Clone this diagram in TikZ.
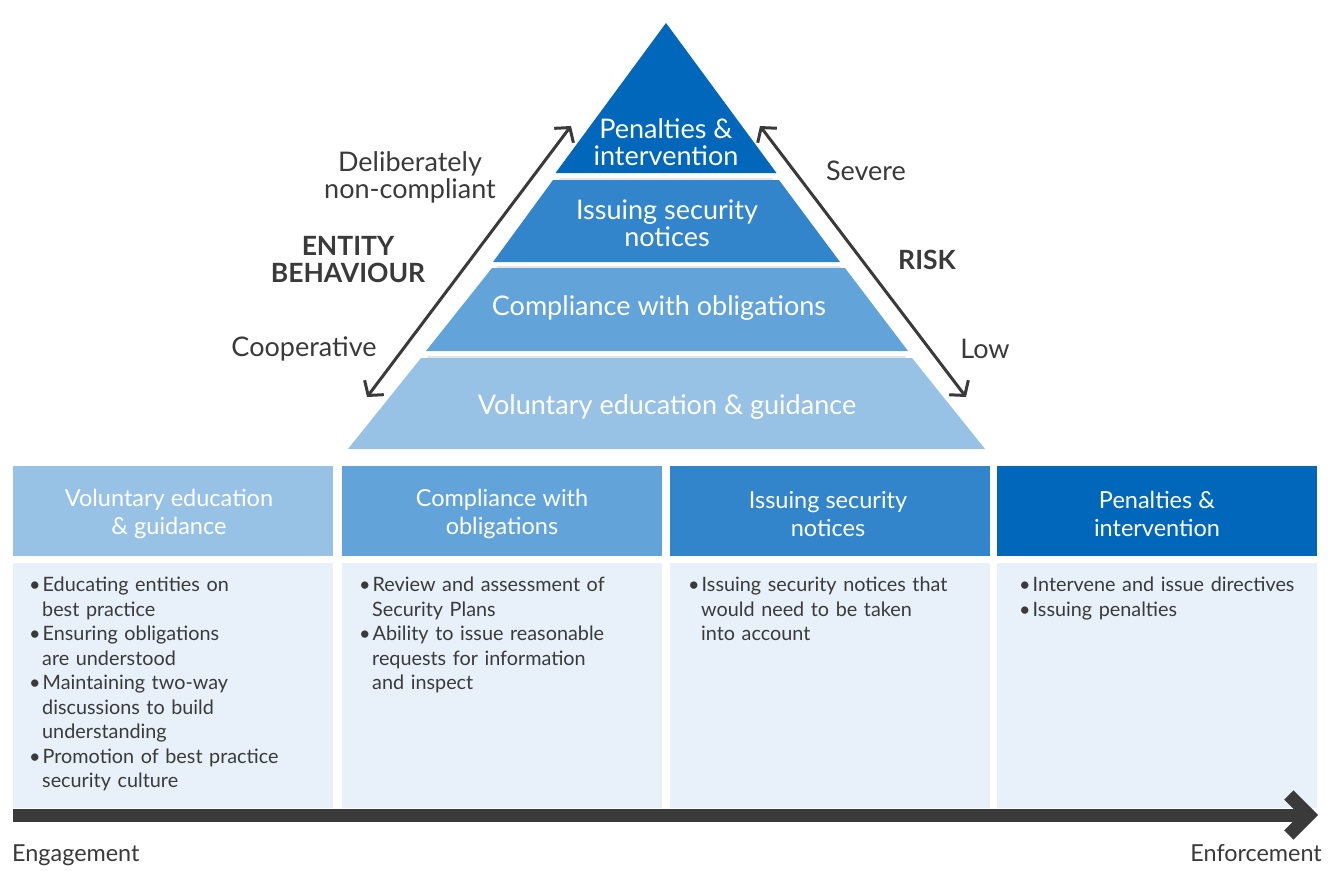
\documentclass[tikz,border=0pt]{standalone}
\usepackage{fontspec}
\setmainfont{Lato}
\usetikzlibrary{arrows.meta}
\definecolor{tierA}{HTML}{0067BA}
\definecolor{tierB}{HTML}{3385CB}
\definecolor{tierC}{HTML}{62A3D9}
\definecolor{tierD}{HTML}{97C2E5}
\definecolor{cardbody}{HTML}{E8F1FA}
\definecolor{ink}{HTML}{3A3A3A}
\tikzset{
  tiertext/.style={text=white, align=center, font=\fontsize{27}{27}\selectfont},
  headtext/.style={text=white, align=center, font=\fontsize{23.5}{28.5}\selectfont},
  bodytext/.style={text=ink, align=left, anchor=north west, inner sep=0pt, font=\fontsize{19.8}{24.5}\selectfont, text width=300pt},
  sidelabel/.style={text=ink, align=center, font=\fontsize{27}{27}\selectfont},
  biglabel/.style={text=ink, align=center, font=\fontsize{26.5}{27}\selectfont\bfseries},
  axislabel/.style={text=ink, font=\fontsize{23.4}{25}\selectfont, inner sep=0pt},
  slopearrow/.style={draw=ink, line width=3pt, {Straight Barb[length=10pt,width=24pt]}-{Straight Barb[length=10pt,width=24pt]}},
  gapshade/.style={fill=black!10},
}
\newcommand{\bitem}{\makebox[13.5pt][l]{\textbullet}}
\newcommand{\cont}{\\\hspace*{13pt}}
\begin{document}
\begin{tikzpicture}[x=1pt,y=-1pt]
\useasboundingbox (0,0) rectangle (1333,876);
\fill[white] (0,0) rectangle (1333,876);
% pyramid tiers
\fill[tierA] (666,23) -- (776.5,173) -- (555.5,173) -- cycle;
\fill[gapshade] (560,178) -- (772,178) -- (773,180) -- (559,180) -- cycle;
\fill[tierB] (553,180) -- (779,180) -- (840,262) -- (493,262) -- cycle;
\fill[gapshade] (497,266) -- (840,266) -- (841,268) -- (496,268) -- cycle;
\fill[tierC] (492,268) -- (845,268) -- (908,351) -- (426,351) -- cycle;
\fill[gapshade] (428,356) -- (905,356) -- (906,358) -- (427,358) -- cycle;
\fill[tierD] (421,358) -- (912,358) -- (985,449) -- (348,449) -- cycle;
\node[tiertext] (t1) at (666,142) {Penalties \&\\intervention};
\node[tiertext] (t2) at (667,223) {Issuing security\\notices};
\node[tiertext] (t3) at (659,308) {Compliance with obligations};
\node[tiertext] (t4) at (667,407) {Voluntary education \& guidance};
% side labels
\node[sidelabel] (delib) at (410,177) {Deliberately\\non-compliant};
\node[biglabel] (entity) at (348,260) {ENTITY\\BEHAVIOUR};
\node[sidelabel] (coop) at (304,349) {Cooperative};
\node[sidelabel] (severe) at (866,171) {Severe};
\node[biglabel] (risk) at (927,260) {RISK};
\node[sidelabel] (low) at (985,349) {Low};
% slope arrows
\coordinate (la) at (367,397);
\coordinate (lb) at (571,126);
\coordinate (ra) at (760,126);
\coordinate (rb) at (966,397);
\draw[slopearrow] (la) -- (lb);
\draw[slopearrow] (ra) -- (rb);
% cards
\foreach \x/\c in {13/tierD,342/tierC,670/tierB,997/tierA}{
  \fill[\c] (\x,466) rectangle ++(320,90);
  \fill[cardbody] (\x,563) rectangle ++(320,245);
}
\node[headtext] (h1) at (169,514) {Voluntary education\\\& guidance};
\node[headtext] (h2) at (502,514) {Compliance with\\obligations};
\node[headtext] (h3) at (828,514) {Issuing security\\notices};
\node[headtext] (h4) at (1157,514) {Penalties \&\\intervention};
\node[bodytext] (b1) at (29,577) {\bitem Educating entities on\cont best practice\\\bitem Ensuring obligations\cont are understood\\\bitem Maintaining two-way\cont discussions to build\cont understanding\\\bitem Promotion of best practice\cont security culture};
\node[bodytext] (b2) at (359,577) {\bitem Review and assessment of\cont Security Plans\\\bitem Ability to issue reasonable\cont requests for information\cont and inspect};
\node[bodytext] (b3) at (688,577) {\bitem Issuing security notices that\cont would need to be taken\cont into account};
\node[bodytext] (b4) at (1019,577) {\bitem Intervene and issue directives\\\bitem Issuing penalties};
% bottom axis
\coordinate (axs) at (13,815);
\coordinate (axe) at (1318,815);
\draw[draw=ink, line width=13pt, -{Straight Barb[length=20pt,width=40pt]}] (axs) -- (axe);
\node[axislabel, anchor=base west] (eng) at (12,861) {Engagement};
\node[axislabel, anchor=base east] (enf) at (1322,861) {Enforcement};
\end{tikzpicture}
\end{document}
